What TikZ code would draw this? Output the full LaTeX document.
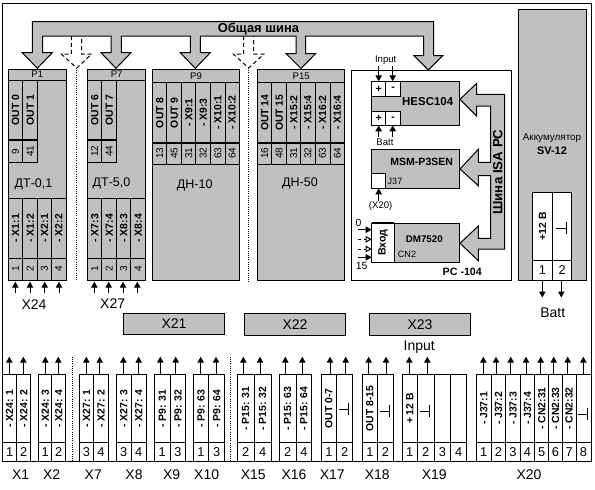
\documentclass[tikz,border=0pt]{standalone}
\usepackage{fontspec}
\setmainfont{Liberation Sans}
\usetikzlibrary{arrows.meta,calc}
\definecolor{gc}{HTML}{C0C0C0}
\newcommand\rt[1]{\rotatebox{90}{#1}}
\newcommand\cell[6][]{%
  \pgfmathsetmacro\cw{(#5-#3)*0.75}%
  \pgfmathsetmacro\ch{(#6-#4)*0.75}%
  \pgfmathsetmacro\cx{(#3+#5)/2}%
  \pgfmathsetmacro\cy{(#4+#6)/2}%
  \node[cellbox,#1,minimum width=\cw pt,minimum height=\ch pt] (#2) at (\cx,\cy) }
\newcommand\gnd[3]{\draw[ln] (#1,#3) -- (#2,#3) (#2,{#3-6}) -- (#2,{#3+6});}
\tikzset{
  ln/.style={line width=.75pt},
  cellbox/.style={draw=black,line width=.75pt,inner sep=0pt,outer sep=0pt,align=center},
  g/.style={fill=gc},
  w/.style={fill=white},
  rotb/.style={font=\fontsize{7.8}{9}\selectfont\bfseries},
  pinr/.style={font=\fontsize{7.5}{9}\selectfont},
  num/.style={font=\fontsize{9.6}{11}\selectfont},
  lab/.style={font=\fontsize{10.5}{12}\selectfont,inner sep=0pt},
  small/.style={font=\fontsize{7.2}{9}\selectfont,inner sep=0pt},
  boldt/.style={font=\fontsize{8}{10}\selectfont\bfseries,inner sep=0pt},
  arr/.style={line width=.75pt,-{Triangle[length=4.5pt,width=4.8pt]}},
  oarr/.style={line width=.75pt,dash pattern=on 2.2pt off 2.2pt,-{Triangle[open,fill=white,length=4.6pt,width=5pt]}},
  busshape/.style={draw=black,fill=gc,line width=.75pt,line join=miter},
  dashbus/.style={draw=black,fill=white,line width=.75pt,dash pattern=on 3pt off 2.2pt},
  dots/.style={line width=.75pt,dash pattern=on .75pt off .9pt},
}
\begin{document}
\begin{tikzpicture}[x=0.75pt,y=-0.75pt]
\useasboundingbox (0,0) rectangle (595,489);
\fill[white] (0,0) rectangle (595,489);
\draw[ln] (2.5,3.5) rectangle (591,461.7);

% dashed (absent) branches of the bus
\draw[dashbus] (71.3,36) -- (71.3,54) -- (61.3,54) -- (76.7,68) -- (91.7,54) -- (81.7,54) -- (81.7,36);
\draw[dots] (76.7,68) -- (76.7,280.5);
\draw[dashbus] (243.7,36) -- (243.7,54) -- (233.3,54) -- (248.7,68) -- (264,54) -- (253.7,54) -- (253.7,36);
\draw[dots] (248.7,68) -- (248.7,281.5);

% common bus
\draw[busshape] (32.3,21.7) -- (433.7,21.7) -- (433.7,55.7) -- (442.7,55.7) -- (428.3,70) -- (414,55.7) -- (423.7,55.7) -- (423.7,36)
  -- (305.7,36) -- (305.7,53.5) -- (315.7,53.5) -- (301,68.5) -- (286,53.5) -- (296,53.5) -- (296,36)
  -- (200.3,36) -- (200.3,52.7) -- (210.3,52.7) -- (195.3,68.3) -- (180.3,52.7) -- (190.3,52.7) -- (190.3,36)
  -- (121.3,36) -- (121.3,52.7) -- (131,52.7) -- (116,68.3) -- (101,52.7) -- (111,52.7) -- (111,36)
  -- (42.7,36) -- (42.7,52.7) -- (52.3,52.7) -- (37.3,68.3) -- (22.3,52.7) -- (32.3,52.7) -- cycle;
\node[font=\fontsize{9.7}{11}\selectfont\bfseries,inner sep=0pt] (bus) at (258.5,29) {Общая шина};

% P1
\cell[g,small]{P1}{8.3}{69.3}{66.3}{280}{};
\cell[g,small]{P1h}{8.3}{69.3}{66.3}{80}{P1};
\foreach \n/\a/\b/\t in {p1a/8.3/22.7/OUT 0,p1b/22.7/37.7/OUT 1}{\cell[g,rotb]{\n}{\a}{80}{\b}{140}{\rt{\t}};}
\foreach \n/\a/\b/\t in {p1c/8.3/22.7/9,p1d/22.7/37.7/41}{\cell[g,pinr]{\n}{\a}{140}{\b}{162.7}{\rt{\t}};}
\draw[line width=1.4pt] (8.3,140) -- (37.7,140);
\node[font=\fontsize{9.4}{11}\selectfont,inner sep=0pt] (dt1) at (33.5,184.5) {ДТ-0,1};
\foreach \n/\a/\b/\t/\s/\x in {p1e/8.3/22.7/- X1:1/1/15.3,p1f/22.7/37.7/- X1:2/2/30,p1g/37.7/51.3/- X2:1/3/44.7,p1h/51.3/66.3/- X2:2/4/59}{
  \cell[g,rotb]{\n}{\a}{198.3}{\b}{258.3}{\rt{\t}};
  \cell[g,pinr]{\n n}{\a}{258.3}{\b}{280}{\rt{\s}};
  \coordinate (\n e) at (\x,293);
  \draw[arr] (\n e) -- ($(\n n.south -| \n e)+(0,1.7)$);
}
\node[lab] (x24) at (34,305) {X24};

% P7
\cell[g,small]{P7}{87.7}{69.3}{145.7}{280}{};
\cell[g,small]{P7h}{87.7}{69.3}{145.7}{80}{P7};
\foreach \n/\a/\b/\t in {p7a/87.7/101.7/OUT 6,p7b/101.7/116.7/OUT 7}{\cell[g,rotb]{\n}{\a}{80}{\b}{140}{\rt{\t}};}
\foreach \n/\a/\b/\t in {p7c/87.7/101.7/12,p7d/101.7/116.7/44}{\cell[g,pinr]{\n}{\a}{140}{\b}{162.7}{\rt{\t}};}
\draw[line width=1.4pt] (87.7,140) -- (116.7,140);
\node[font=\fontsize{9.4}{11}\selectfont,inner sep=0pt] (dt5) at (111.5,183) {ДТ-5,0};
\foreach \n/\a/\b/\t/\s/\x in {p7e/87.7/101.7/- X7:3/1/94.3,p7f/101.7/116.7/- X7:4/2/108.7,p7g/116.7/130.7/- X8:3/3/123,p7h/130.7/145.7/- X8:4/4/137.3}{
  \cell[g,rotb]{\n}{\a}{198.3}{\b}{258.3}{\rt{\t}};
  \cell[g,pinr]{\n n}{\a}{258.3}{\b}{280}{\rt{\s}};
  \coordinate (\n e) at (\x,293);
  \draw[arr] (\n e) -- ($(\n n.south -| \n e)+(0,1.7)$);
}
\node[lab] (x27) at (112.7,303.3) {X27};

% P9
\cell[g,small]{P9}{152.7}{69.3}{239.3}{280.7}{};
\cell[g,small]{P9h}{152.7}{69.3}{239.3}{82.7}{P9};
\foreach \n/\a/\b/\t/\s in {p9a/152.7/166.7/OUT 8/13,p9b/166.7/181.7/OUT 9/45,p9c/181.7/195.7/- X9:1/31,p9d/195.7/210.7/- X9:3/32,p9e/210.7/225/- X10:1/63,p9f/225/239.3/- X10:2/64}{
  \cell[g,rotb]{\n}{\a}{82.7}{\b}{142.7}{\rt{\t}};
  \cell[g,pinr]{\n n}{\a}{142.7}{\b}{164}{\rt{\s}};
}
\draw[line width=1.4pt] (152.7,142.7) -- (239.3,142.7);
\node[font=\fontsize{9.4}{11}\selectfont,inner sep=0pt] (dn10) at (194.7,185) {ДН-10};

% P15
\cell[g,small]{P15}{257.7}{69.3}{344.7}{280.7}{};
\cell[g,small]{P15h}{257.7}{69.3}{344.7}{82.7}{P15};
\foreach \n/\a/\b/\t/\s in {qa/257.7/271.7/OUT 14/16,qb/271.7/286.7/OUT 15/48,qc/286.7/300.7/- X15:2/31,qd/300.7/315/- X15:4/32,qe/315/330/- X16:2/63,qf/330/344.7/- X16:4/64}{
  \cell[g,rotb]{\n}{\a}{82.7}{\b}{142.7}{\rt{\t}};
  \cell[g,pinr]{\n n}{\a}{142.7}{\b}{164}{\rt{\s}};
}
\draw[line width=1.4pt] (257.7,142.7) -- (344.7,142.7);
\node[font=\fontsize{9.4}{11}\selectfont,inner sep=0pt] (dn50) at (300,183) {ДН-50};

% PC-104
\cell[w]{pc}{351.7}{70.7}{511.7}{280}{};
\cell[g,font=\fontsize{8.6}{11}\selectfont\bfseries]{hesc}{371.7}{81.3}{459.7}{125.3}{\raisebox{3pt}{\hspace*{18pt}HESC104}};
\cell[w,boldt]{ha}{371.7}{81.3}{385.7}{96.5}{+};
\cell[w,boldt]{hb}{385.7}{81.3}{400.7}{96.5}{-};
\cell[w,boldt]{hc}{371.7}{111.7}{385.7}{125.3}{+};
\cell[w,boldt]{hd}{385.7}{111.7}{400.7}{125.3}{-};
\node[small] (inp) at (385.7,59.7) {Input};
\coordinate (ia) at (378.7,66); \coordinate (ib) at (392.7,66);
\draw[arr] (ia) -- (ia |- ha.north);
\draw[arr] (ib) -- (ib |- hb.north);
\coordinate (ic) at (378.7,137); \coordinate (id) at (392.7,137);
\draw[arr] (ic) -- (ic |- hc.south);
\draw[arr] (id) -- (id |- hd.south);
\node[small] (bt) at (385,142.5) {Batt};

\cell[g,font=\fontsize{7.9}{10}\selectfont\bfseries]{msm}{371.7}{149}{459.7}{188.3}{\raisebox{10pt}{\hspace*{9pt}MSM-P3SEN}};
\cell[w]{j37}{371.7}{173.3}{385.7}{188.3}{};
\node[small,font=\fontsize{6.8}{8}\selectfont] (j37t) at (395,181.7) {J37};
\coordinate (xe) at (378.7,201);
\draw[arr] (xe) -- (xe |- j37.south);
\node[small] (x20p) at (380.7,206) {(X20)};

\cell[g]{dm}{371.7}{223.3}{459.7}{262.3}{};
\cell[w,boldt,font=\fontsize{8}{10}\selectfont\bfseries]{vh}{371.7}{223.3}{394.3}{262.3}{\rt{Вход}};
\draw[line width=1.4pt] (371.7,223.3) -- (394.3,223.3);
\node[boldt,font=\fontsize{7.3}{9}\selectfont\bfseries] (dmt) at (424.3,239) {DM7520};
\node[small,font=\fontsize{6.8}{8}\selectfont] (cn2) at (407,254.3) {CN2};
\node[small,font=\fontsize{7.8}{9}\selectfont] (i0) at (358.5,222.5) {0};
\node[small,font=\fontsize{7.8}{9}\selectfont] (i15) at (361.7,265.7) {15};
\coordinate (ua) at (358.3,229.7); \coordinate (ub) at (358.3,239.3);
\coordinate (uc) at (358.3,249); \coordinate (ud) at (358.3,257.3);
\draw[arr] (ua) -- (ua -| vh.west);
\draw[oarr] (ub) -- (ub -| vh.west);
\draw[oarr] (uc) -- (uc -| vh.west);
\draw[arr] (ud) -- (ud -| vh.west);
\node[boldt] (pct) at (462.3,272.3) {PC -104};

% ISA bus
\draw[busshape] (504.7,94.3) -- (504.7,249) -- (478.3,249) -- (478.3,260.7) -- (460,243.3) -- (478.3,226) -- (478.3,238.3)
  -- (490.7,238.3) -- (490.7,175.7) -- (478.3,175.7) -- (478.3,185.7) -- (460,169) -- (478.3,149.3) -- (478.3,162.3)
  -- (490.7,162.3) -- (490.7,106) -- (476.7,106) -- (476.7,116) -- (460,99.3) -- (476.7,83.3) -- (476.7,94.3) -- cycle;
\node[rotate=90,font=\fontsize{10}{12}\selectfont\bfseries,inner sep=0pt] (isa) at (497.7,172) {Шина ISA PC};

% battery
\cell[g]{acc}{518.3}{9.3}{586.7}{280}{};
\node[font=\fontsize{7.4}{10}\selectfont,inner sep=0pt] (acct) at (552,137.7) {Аккумулятор};
\node[font=\fontsize{8.2}{10}\selectfont\bfseries,inner sep=0pt] (sv) at (552,151) {SV-12};
\cell[w,rotb]{ba}{532.3}{192.3}{552.7}{260}{\rt{+12 В}};
\cell[w]{bb}{552.7}{192.3}{571.7}{260}{};
\cell[w,num]{bc}{532.3}{260}{552.7}{280}{1};
\cell[w,num]{bd}{552.7}{260}{571.7}{280}{2};
\gnd{556}{566.7}{228.3}
\coordinate (be) at (542.3,297.5); \coordinate (bf) at (561.3,297.5);
\draw[arr] (be |- bc.south) ++(0,1) -- (be);
\draw[arr] (bf |- bd.south) ++(0,1) -- (bf);
\node[lab] (bat) at (552.7,312.7) {Batt};

% X21-X23
\cell[g,lab]{x21}{123.3}{313.3}{224.7}{334.3}{X21};
\cell[g,lab]{x22}{244.3}{313.3}{345.7}{335.3}{X22};
\cell[g,lab]{x23}{369.3}{313.3}{470.7}{335.3}{X23};
\node[lab] (input) at (419.3,346.7) {Input};

% bottom connectors
\foreach \n/\a/\b/\t/\p/\x in {
 a1/2.5/16.7/- X24: 1/1/9.3, a2/16.7/30.7/- X24: 2/2/23.3,
 b1/38.7/51.7/- X24: 3/1/45.3, b2/51.7/65.7/- X24: 4/2/58.3,
 c1/79.3/93.7/- X27: 1/3/86.3, c2/93.7/108.3/- X27: 2/4/99.7,
 d1/116.3/131.3/- X27: 3/3/123.3, d2/131.3/146.3/- X27: 4/4/138.7,
 e1/154.3/170.3/- P9: 31/1/160.3, e2/170.3/185.7/- P9: 32/3/175.7,
 f1/193.3/208.7/- P9: 63/1/200.7, f2/208.7/224.7/- P9: 64/3/216,
 h1/237/254.3/- P15: 31/2/243.3, h2/254.3/271/- P15: 32/4/260,
 i1/279.3/296/- P15: 63/2/285.3, i2/296/311.7/- P15: 64/4/302.3,
 j1/321/336.7/OUT 0-7/1/330, j2/336.7/352.7//2/345.7,
 k1/362/377.7/OUT 8-15/1/368.7, k2/377.7/393.3//2/386,
 l1/402.3/417.3/+ 12 В/1/409.3, l2/417.3/434.3//2/427.3,
 m1/476.3/491.3/- J37:1/1/483.3, m2/491.3/505.7/- J37:2/2/496,
 m3/505.7/520.3/- J37:3/3/510.7, m4/520.3/534.7/- J37:4/4/526,
 m5/534.7/548.7/- CN2:31/5/540.7, m6/548.7/562.3/- CN2:33/6/553.7,
 m7/562.3/576/- CN2:32/7/567.7, m8/576/591//8/583.3}{
  \cell[w,rotb]{\n}{\a}{374.3}{\b}{442.7}{\rt{\t}};
  \cell[w,num]{\n n}{\a}{442.7}{\b}{461.7}{\p};
  \coordinate (\n e) at (\x,356.7);
  \draw[arr] (\n.north -| \n e) -- (\n e);
}
\foreach \n/\a/\b/\p in {l3/434.3/450.7/3,l4/450.7/466.7/4}{
  \cell[w]{\n}{\a}{374.3}{\b}{442.7}{};
  \cell[w,num]{\n n}{\a}{442.7}{\b}{461.7}{\p};
}
\gnd{339.3}{348.3}{409.3}
\gnd{380}{389}{411}
\gnd{420}{429}{411}
\gnd{578.3}{587.7}{414}
\draw[dots] (72.3,356.7) -- (72.3,461.7);
\draw[dots] (230,356.7) -- (230,461.7);

\foreach \n/\x/\t in {la/20.7/X1,lb/51.7/X2,lc/93.3/X7,ld/134/X8,le/171.7/X9,lf/206.7/X10,lh/253.3/X15,li/294/X16,lj/332.3/X17,lk/377.3/X18,ll/434.3/X19,lm/529/X20}{
  \node[lab] (\n) at (\x,475) {\t};
}
\end{tikzpicture}
\end{document}
